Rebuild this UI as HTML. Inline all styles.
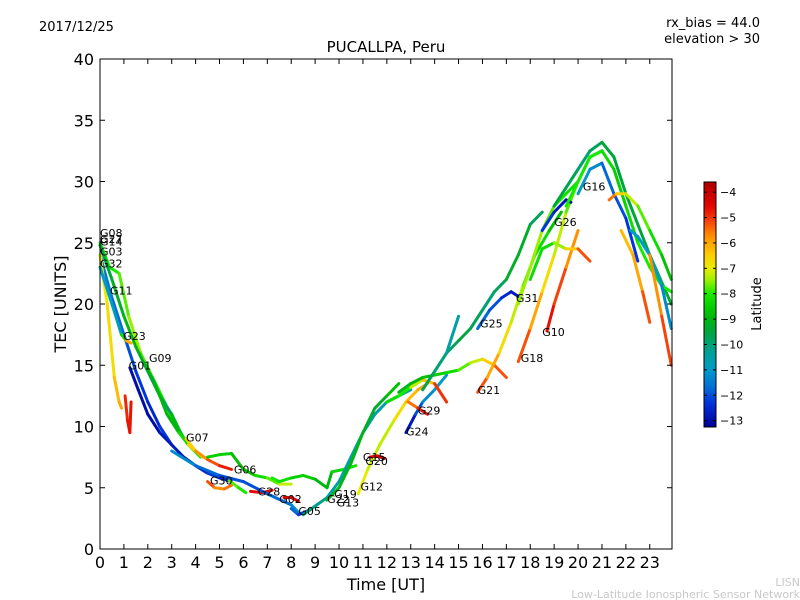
<!DOCTYPE html>
<html><head><meta charset="utf-8"><style>
body{margin:0;background:#fff;}
svg{display:block;font-family:"DejaVu Sans","Liberation Sans",sans-serif;}
</style></head><body>
<svg id="chart" width="800" height="600" xmlns="http://www.w3.org/2000/svg">
<rect width="800" height="600" fill="#fff"/>
<text x="39" y="31" font-size="13">2017/12/25</text>
<text x="386" y="52" font-size="15" text-anchor="middle">PUCALLPA, Peru</text>
<text x="760" y="27" font-size="13" text-anchor="end">rx_bias = 44.0</text>
<text x="760" y="43" font-size="13" text-anchor="end">elevation &gt; 30</text>
<text x="800" y="586" font-size="11" fill="#c8c8c8" text-anchor="end">LISN</text>
<text x="800" y="598" font-size="11" fill="#c8c8c8" text-anchor="end">Low-Latitude Ionospheric Sensor Network</text>
<g id="marks"></g>
<g id="labels"></g>
<rect x="100" y="59" width="572" height="490" fill="none" stroke="#000" stroke-width="1"/>
<g id="axes"></g>
<text x="386" y="590" font-size="16" text-anchor="middle">Time [UT]</text>
<text transform="translate(66,304) rotate(-90)" font-size="16" text-anchor="middle">TEC [UNITS]</text>
<defs><linearGradient id="jet" x1="0" y1="1" x2="0" y2="0"></linearGradient></defs>
<rect x="704" y="182" width="12" height="245" fill="url(#jet)" stroke="#000" stroke-width="1"/>
<g id="cbar"></g>
<text transform="translate(761,304) rotate(-90)" font-size="13" text-anchor="middle">Latitude</text>
</svg>
<script>
const xTicks=[0,1,2,3,4,5,6,7,8,9,10,11,12,13,14,15,16,17,18,19,20,21,22,23];
const yTicks=[0,5,10,15,20,25,30,35,40];
const cTicks=[-4,-5,-6,-7,-8,-9,-10,-11,-12,-13];
const satNames=["G08","G27","G14","G03","G32","G11","G23","G09","G01","G07","G06","G30","G28","G02","G05","G19","G22","G13","G12","G15","G20","G24","G29","G21","G18","G25","G31","G10","G26","G16"];
const labelT=[0,0,0,0,0,0.42,0.97,2.05,1.2,3.6,5.6,4.6,6.6,7.5,8.3,9.8,9.5,9.9,10.9,11.0,11.1,12.8,13.3,15.8,17.6,15.9,17.4,18.5,19.0,20.2];
const labelV=[25.8,25.3,25.1,24.3,23.3,21.1,17.4,15.6,15.0,9.1,6.5,5.6,4.7,4.1,3.1,4.5,4.1,3.8,5.1,7.5,7.2,9.6,11.3,13.0,15.6,18.4,20.5,17.7,26.7,29.6];
const trT=[
[0,0.4,0.8,1.2,1.7,2.2,2.7,3.2,3.7,4.2],
[0,0.5,1,1.5,2,2.5,3,3.5,4],
[0,0.5,1,1.5,2,2.5,3,3.5,4,4.5,5],
[0,0.3,0.6,0.8,0.9],
[1.05,1.15,1.25,1.3],
[1.25,1.6,2,2.5,3,3.5,4,4.5,5,5.5],
[0,0.5,0.9,1.1,1.3],
[1.9,2.3,2.8,3.3,3.7,4.3],
[3.6,4,4.5,5,5.5],
[4.5,5,5.5,6,6.5,7,7.5,8],
[4.5,4.8,5.2,5.5],
[5.4,5.8,6.1],
[6.3,6.8,7.2],
[3,4,5,6,7,8,8.3],
[8,8.3,8.8],
[7.7,8,8.3],
[7.2,7.5,8,8.5,9,9.5,9.7,10.2,10.7],
[8.5,9,9.5,10,10.5,11,11.5,12,12.5,13],
[9.5,10,10.5,11,11.5,12,12.5],
[10.8,11.2,11.7,12.3,12.8,13.3,13.7],
[11.3,11.6,11.9],
[12.8,13.2,13.5,14,14.5],
[12.9,13.3,13.7],
[12,12.5,13,13.5,14,14.5],
[12.5,13,13.5,14,14.5,15,15.5,16,16.5,17],
[15.8,16.2,16.7,17.2,17.7,18.2,18.8,19.3],
[15.8,16.3,16.8,17.2,17.6],
[13.5,14,14.5,15,15.5,16,16.5,17,17.5,18,18.5],
[14.5,15],
[17.5,18,18.5,19,19.5,20],
[18.7,19,19.5,20],
[17.5,18,18.5,19,19.5,20,20.5,21],
[18,18.5,19,19.5,20,20.5],
[18.5,19,19.5,19.7],
[19,19.5,20,20.5,21,21.5,22,22.5,23,23.9],
[19.5,20,20.5,21,21.5,22,22.5,23,23.5,23.9],
[20,20.5,21,21.5,22,22.5],
[21.3,21.6,22,22.5,23,23.5,23.9],
[21.8,22.3,22.7,23],
[22.2,22.5,23,23.5,23.9],
[23,23.5,23.9]
];
const trV=[
[25,23,22.5,19,16,14,12,10,8.5,7.5],
[24.8,22,19,16.5,14.5,12.5,11,9,8],
[24,20.5,17.5,14.5,12,10,8.5,7.5,6.8,6.2,6],
[24,20,14,12,11.5],
[12.5,10.5,9.5,12],
[14.8,13,11,9.5,8.5,7.5,6.8,6.2,5.8,5.5],
[23,20,17.5,17,16.8],
[15,13.5,11,9.5,8.5,7.5],
[9,8,7.3,6.8,6.5],
[7.5,7.7,7.8,6.5,6,5.8,5.3,5.3],
[5.5,5,4.9,5.2],
[5.6,5,4.6],
[4.7,4.6,4.8],
[8,6.8,6,5.5,4.5,3.6,3],
[3.3,2.8,3.2],
[4.2,4.2,3.9],
[5.8,5.5,5.8,6,5.7,5,6.3,6.5,6.8],
[2.8,3.5,4.2,5.5,7.5,9.5,11,12,12.5,13],
[4,5,7,9.5,11.5,12.5,13.5],
[4.5,6.5,8.5,10.5,12,13,13.5],
[7.5,7.6,7.4],
[9.5,11,12,13,14.2],
[12,11.5,11],
[12,12.5,13.2,13.8,13.5,12],
[12.8,13.5,14,14.2,14.4,14.6,15.2,15.5,15,14],
[12.8,14,16,18.5,21.5,24,26,27.5],
[18,19.5,20.5,21,20.5],
[13,14.5,16,17,18,19.5,21,22,24,26.5,27.5],
[16,19],
[15.3,18,21,24,27.5,30],
[17.8,20,23,26],
[20,23,26,28,29,30,32,32.5],
[22,24.5,25,24.5,24.5,23.5],
[26,27.5,28.5,28.3],
[28,29.5,31,32.5,33.2,32,29,26.5,24,20],
[28,30,32,32.5,31,28,25,23,21.5,21],
[29,31,31.5,29,27,23.5],
[28.5,29,29,28,26,24,22],
[26,24,21,18.5],
[26,25.5,24,21.5,18],
[24,19,15]
];
const trL=[
[-8,-8,-8,-7.5,-7.5,-8,-8,-8.5,-8,-8],
[-9.5,-9.5,-9,-9,-9.5,-9.5,-10,-8,-7],
[-11.5,-11.5,-12,-12,-12.5,-12.5,-12,-11.5,-11,-11,-11],
[-7,-7,-6.5,-6,-6],
[-5,-4.8,-4.6,-4.8],
[-13,-13,-13,-13,-12.5,-13,-13,-12.5,-12,-13],
[-11,-11,-10.5,-6,-6],
[-9,-9.5,-8.5,-9.5,-7,-6],
[-7,-6,-5.5,-5,-4.5],
[-8.5,-8.5,-8.5,-9,-8.5,-8,-7.5,-7],
[-5,-5.5,-6,-5],
[-7.5,-8,-8],
[-4.5,-4.6,-4.5],
[-11,-11.5,-12,-12,-12,-11.5,-11],
[-11.5,-12,-12.5],
[-4.5,-4.5,-4.3],
[-8,-8,-8.5,-8.5,-8.5,-9.5,-8.5,-8.3,-8],
[-10,-10,-10.5,-10.5,-10.5,-10.5,-10.5,-10.5,-10,-11],
[-9,-9,-9,-9,-9.5,-9,-8.5],
[-7,-7,-7.5,-7,-6.5,-6,-6],
[-4.5,-4.5,-4.3],
[-13,-12.5,-11.5,-11,-11],
[-6,-5,-4.5],
[-8,-8.5,-7.5,-7,-5.5,-4.5],
[-9,-9,-9,-8.5,-8.5,-8,-7.5,-7,-6,-4.5],
[-5,-5.5,-6.5,-7,-7.5,-8,-8.5,-9],
[-11.5,-12,-12,-13,-12.5],
[-9.5,-10,-10,-9.5,-9.5,-10,-10,-9.5,-9,-9.5,-10],
[-10.5,-10.5],
[-5,-5.5,-6.5,-7,-7.5,-8],
[-4.5,-4.8,-5.5,-6],
[-7.5,-7.5,-7.5,-8,-8,-8.5,-9,-9],
[-8,-8.5,-8,-7,-6,-4.5],
[-12,-12.5,-13,-13],
[-9.5,-9.5,-10,-10,-9.5,-9.5,-9.5,-9.5,-9.5,-9],
[-8,-8,-8,-8,-8.5,-8.5,-8,-8,-8,-8],
[-11,-11,-11.5,-12,-12,-12.5],
[-5,-6,-7,-7.5,-8,-8.5,-9],
[-6,-6.5,-5.5,-5],
[-11,-11,-11,-11,-11.5],
[-6,-5.5,-4.8]
];
const NS="http://www.w3.org/2000/svg";
const X0=100,X1=672,TMAX=23.93,Y0=549,Y1=59,VMAX=40;
const CMIN=-13.25,CMAX=-3.6,CB_TOP=182,CB_BOT=427;
// colormap stops (lat, rgb) matching reference colorbar
const CM=[[-13.25,[0,0,150]],[-12.3,[0,50,220]],[-11.7,[0,110,215]],[-11,[0,155,200]],[-10.3,[0,160,150]],[-9.5,[0,165,60]],[-8.8,[0,190,0]],[-8,[20,235,0]],[-7.5,[150,240,0]],[-7,[235,235,0]],[-6.4,[255,200,0]],[-5.7,[255,140,0]],[-5.1,[245,60,10]],[-4.5,[225,0,0]],[-3.6,[175,0,0]]];
function xs(t){return X0+(t/TMAX)*(X1-X0);}
function ys(v){return Y0-(v/VMAX)*(Y0-Y1);}
function cs(l){return CB_BOT-(l-CMIN)/(CMAX-CMIN)*(CB_BOT-CB_TOP);}
function latCol(l){
 if(l<=CM[0][0])return `rgb(${CM[0][1]})`;
 for(let i=0;i<CM.length-1;i++){const a=CM[i],b=CM[i+1];
  if(l<=b[0]){const f=(l-a[0])/(b[0]-a[0]);const c=a[1].map((v,k)=>Math.round(v+(b[1][k]-v)*f));return `rgb(${c})`;}}
 return `rgb(${CM[CM.length-1][1]})`;}
function mk(tag,attrs,parent){const e=document.createElementNS(NS,tag);for(const k in attrs)e.setAttribute(k,attrs[k]);parent.appendChild(e);return e;}
const marks=document.getElementById('marks');
trT.forEach((ts,i)=>{
 const g=mk('g',{},marks);
 
 
 for(let j=0;j<ts.length-1;j++){
  const ln=mk('line',{x1:xs(ts[j]),y1:ys(trV[i][j]),x2:xs(ts[j+1]),y2:ys(trV[i][j+1]),stroke:latCol((trL[i][j]+trL[i][j+1])/2),'stroke-width':3,'stroke-linecap':'round'},g);
  
  
 }
});
const labels=document.getElementById('labels');
satNames.forEach((n,i)=>{
 const t=mk('text',{x:xs(labelT[i]),y:ys(labelV[i])+4,'font-size':11},labels);
 t.textContent=n;
 
 
});
const axes=document.getElementById('axes');
xTicks.forEach(v=>{
 const x=xs(v);
 mk('line',{x1:x,y1:Y0,x2:x,y2:Y0-5,stroke:'#000'},axes);
 mk('line',{x1:x,y1:Y1,x2:x,y2:Y1+5,stroke:'#000'},axes);
 const t=mk('text',{x:x,y:568,'font-size':16,'text-anchor':'middle'},axes);
 t.textContent=v;
 
 
});
yTicks.forEach(v=>{
 const y=ys(v);
 mk('line',{x1:X0,y1:y,x2:X0+5,y2:y,stroke:'#000'},axes);
 mk('line',{x1:X1,y1:y,x2:X1-5,y2:y,stroke:'#000'},axes);
 const t=mk('text',{x:94,y:y+6,'font-size':16,'text-anchor':'end'},axes);
 t.textContent=v;
 
 
});
const grad=document.getElementById('jet');
for(let k=0;k<=40;k++){const l=CMIN+(CMAX-CMIN)*k/40;mk('stop',{offset:k/40,'stop-color':latCol(l)},grad);}
const cbar=document.getElementById('cbar');
cTicks.forEach(v=>{
 const y=cs(v);
 mk('line',{x1:704,y1:y,x2:707,y2:y,stroke:'#000'},cbar);
 mk('line',{x1:716,y1:y,x2:713,y2:y,stroke:'#000'},cbar);
 const t=mk('text',{x:720,y:y+4,'font-size':11},cbar);
 t.textContent='\u2212'+Math.abs(v);
 
 
});
</script>
</body></html>
